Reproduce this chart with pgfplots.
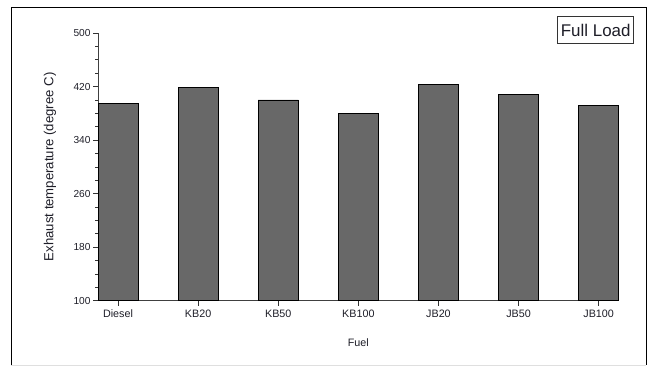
\documentclass[border=0pt]{standalone}
\usepackage{pgfplots}
\pgfplotsset{compat=1.18}
\usepackage{fontspec}
\setmainfont{Liberation Sans}
\definecolor{barfill}{RGB}{104,104,104}
\definecolor{txt}{RGB}{30,30,40}
\begin{document}
\begin{tikzpicture}
\path (-98bp,-66.3bp) rectangle (556bp,300.7bp);
\draw[black,line width=0.9bp] (-87bp,-64.3bp) -- (-87bp,293.7bp) -- (548bp,293.7bp) -- (548bp,-64.3bp);
\draw[gray!25,line width=0.9bp] (-87bp,-64.3bp) -- (548bp,-64.3bp);
\begin{axis}[
  at={(0,0)}, anchor=south west,
  scale only axis, width=520.7bp, height=267.7bp,
  xmin=-0.25, xmax=6.25, ymin=100, ymax=500,
  axis lines*=left,
  axis line style={draw=black!75, line width=0.8bp},
  xtick={0,1,2,3,4,5,6},
  xticklabels={Diesel,KB20,KB50,KB100,JB20,JB50,JB100},
  ytick={100,180,260,340,420,500},
  minor y tick num=3,
  tick align=outside,
  major tick length=5bp, minor tick length=3bp,
  tick style={black!80, line width=0.7bp},
  xtick pos=bottom, ytick pos=left,
  /pgf/number format/assume math mode=true,
  xticklabel style={font=\fontsize{10.8}{13}\selectfont, text=txt, yshift=-0.5bp},
  yticklabel style={font=\fontsize{10.2}{12}\selectfont, text=txt, xshift=1bp},
  xlabel={Fuel},
  xlabel style={at={(axis description cs:0.5,0)}, anchor=center, yshift=-42.3bp, font=\fontsize{10.8}{13}\selectfont, text=txt},
  ylabel={Exhaust temperature (degree C)},
  ylabel style={at={(axis description cs:0,0.5)}, anchor=center, yshift=48bp, font=\fontsize{13.2}{15}\selectfont, text=txt},
  clip=false,
]
\addplot[ybar, bar width=0.5, bar shift=0pt, fill=barfill, draw=black, line width=0.8bp]
  coordinates {(0,395) (1,419) (2,400) (3,379.5) (4,423.5) (5,408) (6,392)};
\end{axis}
\node[draw=black!80, line width=0.8bp, fill=white, inner sep=0pt, minimum width=76bp, minimum height=26.6bp, font=\fontsize{17}{19}\selectfont, text=txt] at (497.7bp,270.7bp) {Full Load};
\end{tikzpicture}
\end{document}
